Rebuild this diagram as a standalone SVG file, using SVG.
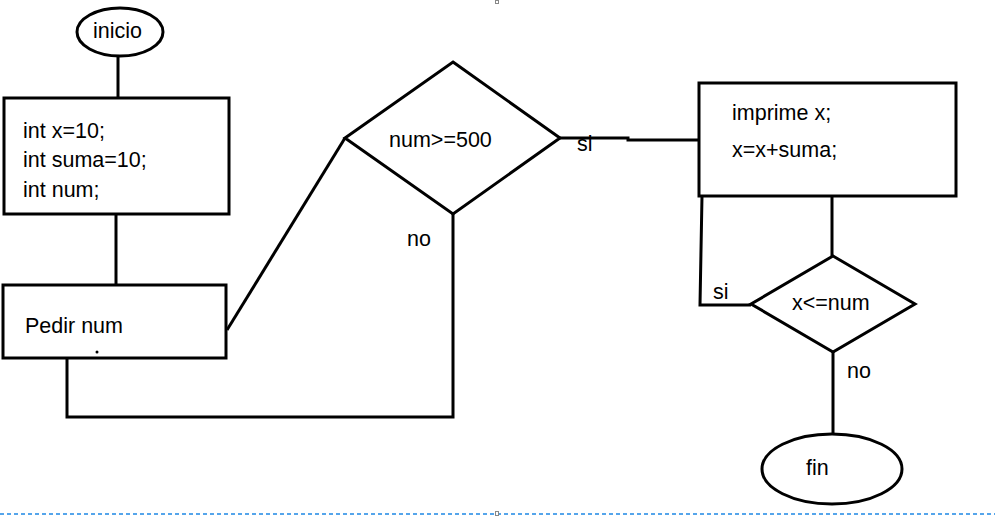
<svg xmlns="http://www.w3.org/2000/svg" width="995" height="517" viewBox="0 0 995 517">
<style>
.s{fill:#fff;stroke:#000;stroke-width:3}
.c{fill:none;stroke:#000;stroke-width:3;stroke-linejoin:miter}
.t{font-family:"Liberation Sans",Arial,sans-serif;font-size:21.5px;fill:#000}
</style>
<rect width="995" height="517" fill="#fff"/>
<g id="connectors">
<line class="c" x1="118" y1="56" x2="118" y2="98"/>
<line class="c" x1="116" y1="214" x2="116" y2="285"/>
<line class="c" x1="227" y1="330" x2="345" y2="138"/>
<polyline class="c" points="67,358 67,417 453,417 453,214"/>
<polyline class="c" points="560,138 628,138 628,140 699,140"/>
<line class="c" x1="832" y1="196" x2="832" y2="257"/>
<polyline class="c" points="702,196 700,305 751,305"/>
<line class="c" x1="833" y1="352" x2="833" y2="434"/>
<text class="t" x="577" y="151">si</text>
<text class="t" x="407" y="246">no</text>
<text class="t" x="713" y="299">si</text>
<text class="t" x="847" y="378">no</text>
</g>
<g id="inicio">
<ellipse class="s" cx="120" cy="32" rx="43" ry="24"/>
<text class="t" x="93" y="38">inicio</text>
</g>
<g id="decl">
<rect class="s" x="4" y="98" width="225" height="116"/>
<text class="t" x="23" y="138">int x=10;</text>
<text class="t" x="23" y="167">int suma=10;</text>
<text class="t" x="23" y="197">int num;</text>
</g>
<g id="pedir">
<rect class="s" x="3" y="285" width="223" height="73"/>
<text class="t" x="25" y="333">Pedir num</text>
<circle cx="97" cy="352" r="1.5" fill="#000"/>
</g>
<g id="cond1">
<polygon class="s" points="453,62 560,138 453,214 345,138"/>
<text class="t" x="389" y="147">num&gt;=500</text>
</g>
<g id="imprime">
<rect class="s" x="699" y="83" width="257" height="113"/>
<text class="t" x="732" y="120">imprime x;</text>
<text class="t" x="732" y="157">x=x+suma;</text>
</g>
<g id="cond2">
<polygon class="s" points="833,256 915,304 833,352 751,304"/>
<text class="t" x="792" y="310">x&lt;=num</text>
</g>
<g id="fin">
<ellipse class="s" cx="832" cy="469" rx="70" ry="35"/>
<text class="t" x="806" y="475">fin</text>
</g>
<line x1="0" y1="514" x2="995" y2="514" stroke="#1e88e5" stroke-width="1.5" stroke-dasharray="4,3"/>
<rect x="495.5" y="0.5" width="3" height="3" fill="#fff" stroke="#888" stroke-width="1"/>
<rect x="495.5" y="511.5" width="3" height="4" fill="#fff" stroke="#888" stroke-width="1"/>
</svg>
